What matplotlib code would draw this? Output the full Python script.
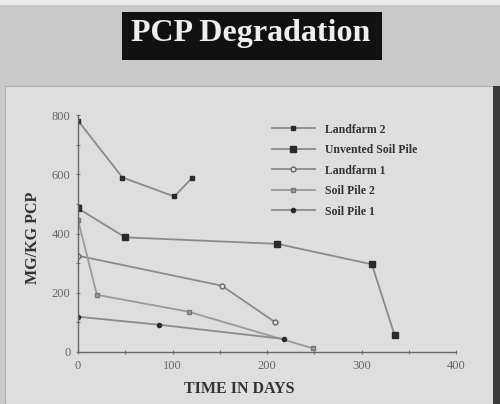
import matplotlib
matplotlib.use("Agg")
import matplotlib.pyplot as plt
from matplotlib.patches import Rectangle

# Daten
landfarm2_x = [0, 47, 102, 121]
landfarm2_y = [781, 589, 525, 589]
unvented_x = [0, 50, 211, 311, 335]
unvented_y = [485, 387, 365, 296, 57]
landfarm1_x = [0, 152, 208]
landfarm1_y = [325, 224, 102]
soilpile2_x = [0, 20, 117, 249]
soilpile2_y = [446, 193, 136, 12]
soilpile1_x = [0, 86, 218]
soilpile1_y = [119, 92, 44]

x_ticks = [0, 100, 200, 300, 400]
y_ticks = [0, 200, 400, 600, 800]

W, H = 500, 404
fig = plt.figure(figsize=(5.0, 4.04), dpi=100)
fig.patch.set_facecolor("#c9c9c9")

# Hintergrund der Folie
fig.patches.append(Rectangle((0, 1 - 5 / H), 1, 5 / H, transform=fig.transFigure,
                             facecolor="#ececec", edgecolor="none", zorder=0))
fig.patches.append(Rectangle((5 / W, 0), 488 / W, (H - 86) / H, transform=fig.transFigure,
                             facecolor="#dedede", edgecolor="#b0b0b0", lw=0.8, zorder=0))
fig.patches.append(Rectangle((493 / W, 0), 7 / W, (H - 86) / H, transform=fig.transFigure,
                             facecolor="#3a3a3a", edgecolor="none", zorder=0))

# Titel im schwarzen Kasten
fig.patches.append(Rectangle((122 / W, 1 - 60 / H), 260 / W, 48 / H, transform=fig.transFigure,
                             facecolor="#111111", edgecolor="none", zorder=1))
fig.text(251 / W, 1 - 34 / H, "PCP Degradation", color="#eeeeee", fontsize=23,
         fontweight="bold", family="Liberation Serif", ha="center", va="center")

ax = fig.add_axes([78 / W, (H - 352) / H, 378 / W, 237 / H])
ax.set_facecolor("none")
ax.set_zorder(5)

line_c = "#8a8a8a"
mark_c = "#2a2a2a"
ax.plot(landfarm2_x, landfarm2_y, color=line_c, lw=1.3, marker="s", ms=3.5,
        mfc=mark_c, mec=mark_c, label="Landfarm 2")
ax.plot(unvented_x, unvented_y, color=line_c, lw=1.3, marker="s", ms=3.8,
        mfc=mark_c, mec=mark_c, label="Unvented Soil Pile")
ax.plot(landfarm1_x, landfarm1_y, color=line_c, lw=1.3, marker="o", ms=3.5,
        mfc="#dedede", mec="#666666", label="Landfarm 1")
ax.plot(soilpile2_x, soilpile2_y, color="#9a9a9a", lw=1.3, marker="s", ms=2.8,
        mfc="#9a9a9a", mec="#777777", label="Soil Pile 2")
ax.plot(soilpile1_x, soilpile1_y, color=line_c, lw=1.3, marker="o", ms=3,
        mfc=mark_c, mec=mark_c, label="Soil Pile 1")

ax.set_xlim(0, 400)
ax.set_ylim(0, 800)
ax.set_xticks(x_ticks)
ax.set_yticks(y_ticks)
ax.set_xticks(range(0, 401, 50), minor=True)
ax.set_yticks(range(0, 801, 100), minor=True)
for s in ["top", "right"]:
    ax.spines[s].set_visible(False)
for s in ["left", "bottom"]:
    ax.spines[s].set_color("#666666")
    ax.spines[s].set_linewidth(1.0)
ax.tick_params(which="both", direction="inout", color="#777777", length=3, width=0.8,
               labelsize=9, labelcolor="#666666", pad=4)
for lab in ax.get_xticklabels() + ax.get_yticklabels():
    lab.set_family("Liberation Serif")

fig.text(239 / W, 1 - 389 / H, "TIME IN DAYS", fontsize=11.5, fontweight="bold",
         family="Liberation Serif", color="#333333", ha="center", va="center")
fig.text(33 / W, 1 - 238 / H, "MG/KG PCP", fontsize=11.5, fontweight="bold",
         family="Liberation Serif", color="#333333", ha="center", va="center", rotation=90)

leg = ax.legend(loc="upper left", bbox_to_anchor=(261 / W, 1 - 113 / H),
                bbox_transform=fig.transFigure, frameon=False, handlelength=3.7,
                handletextpad=0.8, labelspacing=0.72,
                prop={"family": "Liberation Serif", "weight": "bold", "size": 8.5})
for t in leg.get_texts():
    t.set_color("#333333")

fig.savefig("out.png", dpi=100, facecolor=fig.get_facecolor())
